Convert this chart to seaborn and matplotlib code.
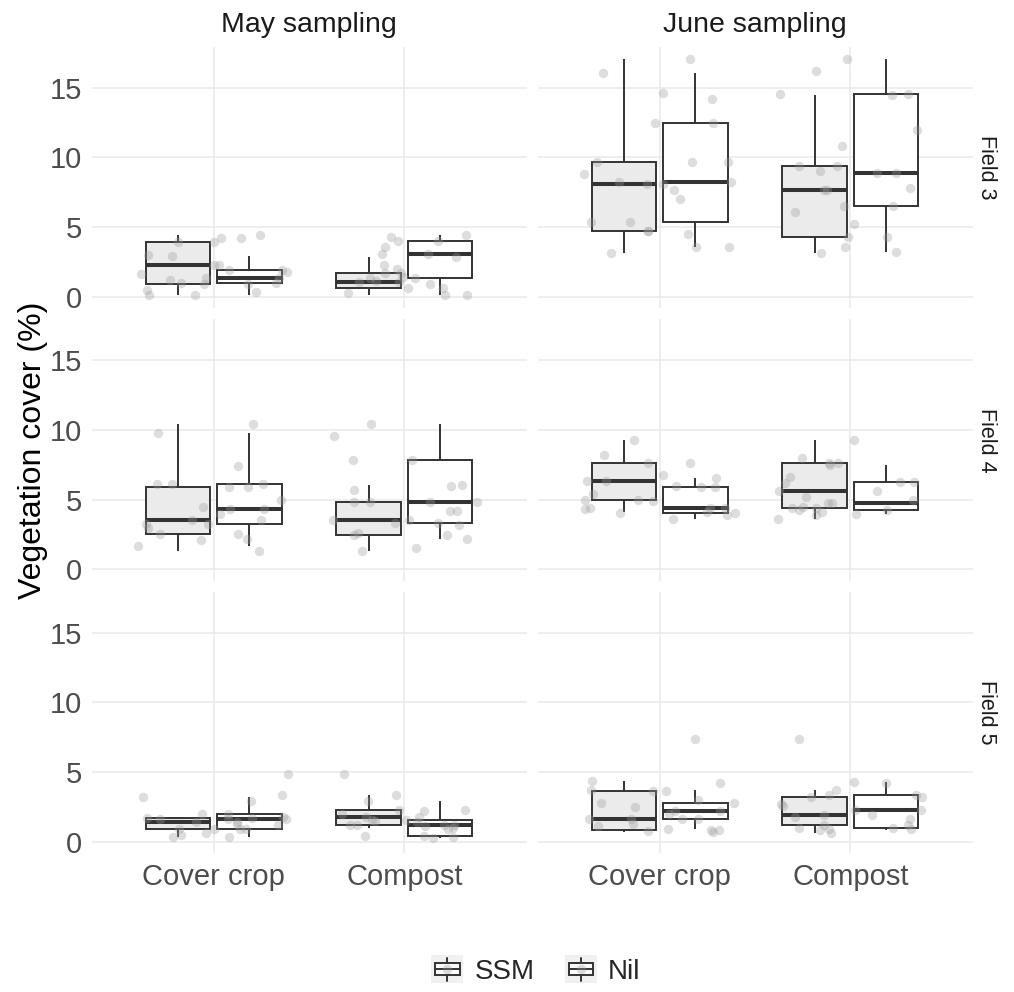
import numpy as np
import pandas as pd
import matplotlib
matplotlib.use("Agg")
import matplotlib.pyplot as plt
import seaborn as sns
from matplotlib.legend_handler import HandlerBase
from matplotlib.patches import Rectangle
from matplotlib.lines import Line2D

sns.set_theme(style="white")
plt.rcParams["font.family"] = ["Liberation Sans", "DejaVu Sans"]

samplings = ["May sampling", "June sampling"]
fields = ["Field 3", "Field 4", "Field 5"]
amendments = ["Cover crop", "Compost"]
treatments = ["SSM", "Nil"]
y_ticks = [0, 5, 10, 15]

# ---- Vegetation cover (%) ----
# Field 3, May
f3_may_cc_ssm = [0.1, 0.35, 0.9, 0.9, 1.8, 2.3, 2.3, 3.0, 3.95, 3.95, 4.2, 4.45]
f3_may_cc_nil = [0.1, 0.5, 1.0, 1.0, 1.2, 1.38, 1.38, 1.6, 1.93, 1.93, 2.95, 4.2]
f3_may_co_ssm = [0.1, 0.3, 0.62, 0.62, 0.9, 1.05, 1.05, 1.4, 1.74, 1.74, 2.3, 2.83]
f3_may_co_nil = [0.1, 1.1, 1.38, 1.38, 2.0, 3.1, 3.1, 3.6, 4.0, 4.0, 4.3, 4.45]
# Field 3, June
f3_jun_cc_ssm = [3.12, 3.6, 4.71, 4.71, 7.0, 8.1, 8.1, 8.8, 9.67, 9.67, 14.6, 17.05]
f3_jun_cc_nil = [3.55, 4.5, 5.36, 5.36, 7.7, 8.21, 8.21, 9.7, 12.48, 12.48, 14.2, 16.05]
f3_jun_co_ssm = [3.12, 3.6, 4.26, 4.26, 6.1, 7.64, 7.64, 9.0, 9.4, 9.4, 10.8, 14.48]
f3_jun_co_nil = [3.21, 5.2, 6.5, 6.5, 7.8, 8.88, 8.88, 12.0, 14.52, 14.52, 16.2, 17.05]
# Field 4, May
f4_may_cc_ssm = [1.29, 2.2, 2.52, 2.52, 3.0, 3.57, 3.57, 4.5, 5.9, 5.9, 6.1, 10.4]
f4_may_cc_nil = [1.69, 2.1, 3.29, 3.29, 4.0, 4.36, 4.36, 5.0, 6.12, 6.12, 7.4, 9.79]
f4_may_co_ssm = [1.29, 1.5, 2.45, 2.45, 3.2, 3.55, 3.55, 4.2, 4.81, 4.81, 5.7, 6.07]
f4_may_co_nil = [2.21, 2.6, 3.33, 3.33, 4.2, 4.86, 4.86, 6.0, 7.86, 7.86, 9.6, 10.4]
# Field 4, June
f4_jun_cc_ssm = [4.12, 4.4, 4.95, 4.95, 5.4, 6.36, 6.36, 6.8, 7.64, 7.64, 8.2, 9.31]
f4_jun_cc_nil = [3.6, 3.9, 4.02, 4.02, 4.3, 4.43, 4.43, 4.9, 5.88, 5.88, 6.0, 6.55]
f4_jun_co_ssm = [3.6, 3.9, 4.4, 4.4, 5.0, 5.6, 5.6, 6.2, 7.64, 7.64, 8.0, 9.31]
f4_jun_co_nil = [4.0, 4.12, 4.26, 4.26, 4.5, 4.79, 4.79, 5.2, 6.26, 6.26, 6.6, 7.48]
# Field 5, May
f5_may_cc_ssm = [0.36, 0.6, 0.95, 0.95, 1.2, 1.43, 1.43, 1.6, 1.69, 1.69, 2.93, 3.38]
f5_may_cc_nil = [0.36, 0.5, 0.93, 0.93, 1.3, 1.67, 1.67, 1.8, 2.02, 2.02, 3.21, 4.83]
f5_may_co_ssm = [1.02, 1.1, 1.21, 1.21, 1.5, 1.76, 1.76, 2.0, 2.26, 2.26, 3.33, 4.83]
f5_may_co_nil = [0.3, 0.35, 0.45, 0.45, 0.9, 1.19, 1.19, 1.4, 1.57, 1.57, 2.2, 2.9]
# Field 5, June
f5_jun_cc_ssm = [0.67, 0.75, 0.81, 0.81, 1.1, 1.64, 1.64, 3.0, 3.62, 3.62, 4.2, 4.33]
f5_jun_cc_nil = [0.95, 1.3, 1.6, 1.6, 2.0, 2.21, 2.21, 2.5, 2.81, 2.81, 3.74, 7.36]
f5_jun_co_ssm = [0.64, 0.9, 1.24, 1.24, 1.6, 1.95, 1.95, 2.6, 3.19, 3.19, 3.74, 7.36]
f5_jun_co_nil = [0.83, 0.9, 1.02, 1.02, 1.8, 2.31, 2.31, 2.7, 3.38, 3.38, 4.2, 4.26]

group_table = {
    ("May sampling", "Field 3"): [f3_may_cc_ssm, f3_may_cc_nil, f3_may_co_ssm, f3_may_co_nil],
    ("June sampling", "Field 3"): [f3_jun_cc_ssm, f3_jun_cc_nil, f3_jun_co_ssm, f3_jun_co_nil],
    ("May sampling", "Field 4"): [f4_may_cc_ssm, f4_may_cc_nil, f4_may_co_ssm, f4_may_co_nil],
    ("June sampling", "Field 4"): [f4_jun_cc_ssm, f4_jun_cc_nil, f4_jun_co_ssm, f4_jun_co_nil],
    ("May sampling", "Field 5"): [f5_may_cc_ssm, f5_may_cc_nil, f5_may_co_ssm, f5_may_co_nil],
    ("June sampling", "Field 5"): [f5_jun_cc_ssm, f5_jun_cc_nil, f5_jun_co_ssm, f5_jun_co_nil],
}

rows = []
for (samp, fld), lists in group_table.items():
    combos = [(a, t) for a in amendments for t in treatments]
    for (a, t), vals in zip(combos, lists):
        for v in vals:
            rows.append({"sampling": samp, "field": fld, "amendment": a,
                         "treatment": t, "cover": v})
df = pd.DataFrame(rows)

# ---- layout ----
W, H = 1014, 992
fig = plt.figure(figsize=(W / 100, H / 100), dpi=100)
fig.patch.set_facecolor("white")
col_left = [91.5, 537.5]
col_w = 435
row_top = [46.7, 319.3, 591.7]
row_h = 261.5

palette = {"SSM": "#EBEBEB", "Nil": "#FFFFFF"}
edge = "#333333"
np.random.seed(7)

for r, fld in enumerate(fields):
    for c, samp in enumerate(samplings):
        ax = fig.add_axes([col_left[c] / W, 1 - (row_top[r] + row_h) / H,
                           col_w / W, row_h / H])
        sub = df[(df.sampling == samp) & (df.field == fld)]
        sns.boxplot(data=sub, x="amendment", y="cover", hue="treatment",
                    order=amendments, hue_order=treatments, palette=palette,
                    saturation=1, width=0.75, gap=0.1, showfliers=False,
                    showcaps=False, linecolor=edge, linewidth=1.4,
                    medianprops={"linewidth": 2.9, "color": edge},
                    legend=False, ax=ax)
        sns.stripplot(data=sub, x="amendment", y="cover", order=amendments,
                      color="#9A9A9A", alpha=0.33, size=6.8, linewidth=0,
                      jitter=0.4, zorder=4, ax=ax)
        ax.set_xlim(-0.64, 1.64)
        ax.set_ylim(-0.82, 17.95)
        ax.set_yticks(y_ticks)
        ax.set_xlabel("")
        ax.set_ylabel("")
        for s in ax.spines.values():
            s.set_visible(False)
        ax.grid(True, color="#EBEBEB", linewidth=1.2)
        ax.set_axisbelow(True)
        ax.tick_params(axis="both", length=4, width=1.1, color=edge, pad=3,
                       labelsize=21, labelcolor="#4D4D4D")
        if c != 0:
            ax.tick_params(axis="y", left=False, labelleft=False)
        if r != 2:
            ax.tick_params(axis="x", bottom=False, labelbottom=False)
        if r == 0:
            ax.text(0.5, 1 + 21.5 / row_h, samp, transform=ax.transAxes,
                    ha="center", va="center", fontsize=20.5, color="#1A1A1A")
        if c == 1:
            ax.text(1 + 14 / col_w, 0.5 + 10 / row_h, fld, transform=ax.transAxes,
                    ha="center", va="center", rotation=-90, fontsize=15.5,
                    color="#1A1A1A")

fig.text(33 / W, 1 - 450 / H, "Vegetation cover (%)", rotation=90,
         ha="center", va="center", fontsize=23, color="black")


class BoxKey(HandlerBase):
    def create_artists(self, legend, orig_handle, xdescent, ydescent,
                       width, height, fontsize, trans):
        x0, y0 = -xdescent, -ydescent
        arts = [Rectangle((x0, y0), width, height, facecolor="#F0F0F0",
                          edgecolor="none", transform=trans)]
        bx, bw = x0 + width * 0.12, width * 0.76
        by, bh = y0 + height * 0.28, height * 0.44
        arts.append(Rectangle((bx, by), bw, bh, facecolor="#FAFAFA",
                              edgecolor=edge, lw=1.4, transform=trans))
        cx = x0 + width / 2
        arts.append(Line2D([cx, cx], [by + bh, y0 + height * 0.92], color=edge,
                           lw=1.4, transform=trans))
        arts.append(Line2D([cx, cx], [y0 + height * 0.08, by], color=edge,
                           lw=1.4, transform=trans))
        arts.append(Line2D([bx, bx + bw], [y0 + height / 2] * 2, color=edge,
                           lw=1.4, transform=trans))
        arts.append(Line2D([cx], [y0 + height / 2], marker="o", ms=6.8,
                           color="#9A9A9A", alpha=0.33, ls="none",
                           markeredgewidth=0, transform=trans))
        return arts


handles = [Rectangle((0, 0), 1, 1), Rectangle((0, 0), 1, 1)]
fig.legend(handles, treatments, handler_map={h: BoxKey() for h in handles},
           loc="center", bbox_to_anchor=(536 / W, 1 - 970 / H), ncol=2,
           frameon=False, fontsize=20, handlelength=1.15, handleheight=1.15,
           handletextpad=0.4, columnspacing=1.1, borderpad=0)

fig.savefig("out.png", dpi=100, facecolor="white")
